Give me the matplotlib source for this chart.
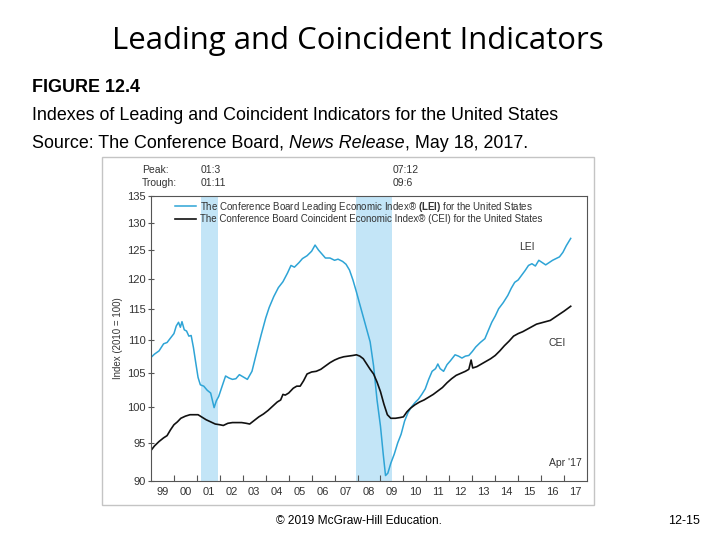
import numpy as np
import matplotlib
matplotlib.use("Agg")
import matplotlib.pyplot as plt
from matplotlib.patches import Rectangle
from matplotlib.ticker import FixedLocator, NullLocator, NullFormatter

# ---- data (decimal years) ----
lei_t = [1999.00, 1999.15, 1999.35, 1999.55, 1999.70, 1999.85, 2000.00, 2000.10, 2000.20, 2000.28,
         2000.35, 2000.45, 2000.55, 2000.65, 2000.75, 2000.85, 2000.95, 2001.05, 2001.15, 2001.30,
         2001.45, 2001.60, 2001.75, 2001.85, 2001.95, 2002.10, 2002.25, 2002.40, 2002.55, 2002.70,
         2002.85, 2003.00, 2003.20, 2003.40, 2003.60, 2003.80, 2004.00, 2004.15, 2004.35, 2004.55,
         2004.75, 2004.95, 2005.10, 2005.25, 2005.45, 2005.60, 2005.80, 2006.00, 2006.15, 2006.30,
         2006.45, 2006.60, 2006.80, 2007.00, 2007.15, 2007.35, 2007.50, 2007.65, 2007.80, 2007.95,
         2008.10, 2008.30, 2008.45, 2008.55, 2008.70, 2008.85, 2009.00, 2009.12, 2009.22, 2009.32,
         2009.45, 2009.60, 2009.75, 2009.90, 2010.05, 2010.20, 2010.35, 2010.50, 2010.65, 2010.80,
         2010.95, 2011.10, 2011.25, 2011.40, 2011.50, 2011.60, 2011.75, 2011.90, 2012.05, 2012.25,
         2012.40, 2012.55, 2012.70, 2012.85, 2013.00, 2013.15, 2013.35, 2013.55, 2013.70, 2013.85,
         2014.00, 2014.15, 2014.35, 2014.55, 2014.70, 2014.85, 2015.00, 2015.15, 2015.30, 2015.45,
         2015.60, 2015.75, 2015.90, 2016.05, 2016.20, 2016.35, 2016.50, 2016.65, 2016.80, 2016.95,
         2017.10, 2017.29]
lei_v = [107.3, 107.8, 108.3, 109.4, 109.6, 110.3, 111.0, 112.2, 112.8, 112.0,
         112.9, 111.6, 111.4, 110.6, 110.7, 108.8, 106.5, 104.3, 103.2, 103.0,
         102.4, 102.0, 99.9, 100.9, 101.5, 103.0, 104.5, 104.2, 104.0, 104.1,
         104.7, 104.4, 104.0, 105.2, 108.0, 110.8, 113.5, 115.2, 117.0, 118.5,
         119.5, 121.0, 122.3, 122.0, 122.8, 123.5, 124.0, 124.8, 125.9, 125.0,
         124.3, 123.6, 123.6, 123.2, 123.4, 123.0, 122.5, 121.5, 119.8, 117.8,
         115.7, 113.0, 111.0, 109.7, 106.0, 101.0, 97.3, 93.5, 90.7, 91.0,
         92.3, 93.5, 95.0, 96.2, 98.0, 99.2, 100.0, 100.6, 101.1, 101.8,
         102.6, 104.0, 105.2, 105.6, 106.3, 105.6, 105.2, 106.2, 106.8, 107.7,
         107.5, 107.2, 107.5, 107.6, 108.2, 108.9, 109.6, 110.2, 111.5, 112.8,
         113.8, 115.0, 116.0, 117.2, 118.4, 119.4, 119.8, 120.6, 121.4, 122.3,
         122.6, 122.2, 123.2, 122.8, 122.4, 122.8, 123.2, 123.5, 123.8, 124.6,
         125.8, 127.1]

cei_t = [1999.00, 1999.15, 1999.35, 1999.55, 1999.70, 1999.85, 2000.00, 2000.15, 2000.30, 2000.50,
         2000.70, 2000.90, 2001.05, 2001.20, 2001.40, 2001.60, 2001.80, 2002.00, 2002.15, 2002.35,
         2002.55, 2002.75, 2002.95, 2003.15, 2003.30, 2003.50, 2003.70, 2003.90, 2004.10, 2004.30,
         2004.50, 2004.65, 2004.75, 2004.85, 2005.00, 2005.20, 2005.35, 2005.50, 2005.65, 2005.80,
         2006.00, 2006.20, 2006.40, 2006.60, 2006.80, 2007.00, 2007.20, 2007.40, 2007.60, 2007.80,
         2007.95, 2008.10, 2008.25, 2008.40, 2008.55, 2008.70, 2008.85, 2009.00, 2009.15, 2009.30,
         2009.45, 2009.65, 2009.85, 2010.00, 2010.15, 2010.30, 2010.50, 2010.70, 2010.90, 2011.10,
         2011.30, 2011.50, 2011.70, 2011.90, 2012.10, 2012.30, 2012.50, 2012.70, 2012.85, 2012.95,
         2013.02, 2013.20, 2013.40, 2013.60, 2013.80, 2014.00, 2014.20, 2014.40, 2014.60, 2014.80,
         2015.00, 2015.20, 2015.40, 2015.60, 2015.80, 2016.00, 2016.20, 2016.40, 2016.60, 2016.80,
         2017.00, 2017.29]
cei_v = [94.0, 94.6, 95.2, 95.7, 96.0, 96.8, 97.5, 97.9, 98.4, 98.7,
         98.9, 98.9, 98.9, 98.6, 98.2, 97.9, 97.6, 97.5, 97.4, 97.7,
         97.8, 97.8, 97.8, 97.7, 97.6, 98.1, 98.6, 99.0, 99.5, 100.1,
         100.7, 101.0, 101.8, 101.7, 102.0, 102.7, 103.0, 103.0, 103.8, 104.8,
         105.1, 105.2, 105.5, 106.0, 106.5, 106.9, 107.2, 107.4, 107.5, 107.6,
         107.7, 107.5, 107.1, 106.3, 105.5, 104.8, 103.6, 102.2, 100.4, 98.9,
         98.4, 98.4, 98.5, 98.6, 99.3, 99.8, 100.3, 100.7, 101.0, 101.4,
         101.8, 102.3, 102.8, 103.5, 104.1, 104.6, 104.9, 105.2, 105.5, 106.9,
         105.7, 105.9, 106.3, 106.7, 107.1, 107.6, 108.3, 109.1, 109.8, 110.6,
         111.0, 111.3, 111.7, 112.1, 112.5, 112.7, 112.9, 113.1, 113.6, 114.1,
         114.6, 115.4]

recessions = [(2001 + 2 / 12, 2001 + 11 / 12), (2007 + 11 / 12, 2009 + 6 / 12)]
peaks = ["01:3", "07:12"]
troughs = ["01:11", "09:6"]
yticks = [90, 95, 100, 105, 110, 115, 120, 125, 130, 135]
years = list(range(1999, 2018))
year_labels = ["99", "00", "01", "02", "03", "04", "05", "06", "07", "08",
               "09", "10", "11", "12", "13", "14", "15", "16", "17"]

W, H = 720, 540
def fx(px):
    return px / W
def fy(py):
    return 1 - py / H

fig = plt.figure(figsize=(7.2, 5.4), dpi=100)
fig.patch.set_facecolor("white")

plt.rcParams["mathtext.fontset"] = "custom"
plt.rcParams["mathtext.rm"] = "Liberation Sans"
plt.rcParams["mathtext.bf"] = "Liberation Sans:bold"

# slide text
fig.text(fx(358), fy(41), "Leading and Coincident Indicators", ha="center", va="center",
         fontsize=22.4, family="Open Sans", color="black")
body = "Liberation Sans"
fig.text(fx(32), fy(88), "FIGURE 12.4", ha="left", va="center", fontsize=12.9,
         family=body, weight="bold")
fig.text(fx(32), fy(115), "Indexes of Leading and Coincident Indicators for the United States",
         ha="left", va="center", fontsize=12.9, family=body)

renderer = fig.canvas.get_renderer()
xpos = fx(32)
for piece, style in [("Source: The Conference Board, ", "normal"), ("News Release", "italic"),
                     (", May 18, 2017.", "normal")]:
    t = fig.text(xpos, fy(143), piece, ha="left", va="center", fontsize=12.9,
                 family=body, style=style)
    bb = t.get_window_extent(renderer=renderer)
    xpos = bb.x1 / W

fig.text(fx(359), fy(521), "\u00a9 2019 McGraw-Hill Education.", ha="center", va="center",
         fontsize=8.6, family="Liberation Sans")
fig.text(fx(684), fy(521), "12-15", ha="center", va="center", fontsize=9, family="Liberation Sans")

# picture frame
fig.patches.append(Rectangle((fx(102), fy(505)), (594 - 102) / W, (505 - 157) / H,
                             transform=fig.transFigure, fill=False, edgecolor="#c4c4c4", lw=1))

# chart
ax = fig.add_axes([fx(151), fy(481), (587 - 151) / W, (481 - 196) / H])
ax.set_yscale("log")
ax.set_xlim(1999, 2018)
ax.set_ylim(90, 135)

for start, end in recessions:
    ax.axvspan(start, end, color="#c3e5f7", lw=0, zorder=0)

ax.plot(lei_t, lei_v, color="#2ea4d6", lw=1.1,
        label="The Conference Board Leading Economic Index\u00ae $\\mathbf{(LEI)}$ for the United States")
ax.plot(cei_t, cei_v, color="#111111", lw=1.2,
        label="The Conference Board Coincident Economic Index\u00ae (CEI) for the United States")

ax.yaxis.set_major_locator(FixedLocator(yticks))
ax.yaxis.set_minor_locator(NullLocator())
ax.yaxis.set_minor_formatter(NullFormatter())
ax.set_yticklabels([str(v) for v in yticks])

ax.xaxis.set_major_locator(FixedLocator(years[1:]))
ax.xaxis.set_major_formatter(NullFormatter())
ax.xaxis.set_minor_locator(FixedLocator([y + 0.5 for y in years]))
ax.set_xticklabels(year_labels, minor=True)
ax.tick_params(axis="x", which="major", direction="in", length=4, width=0.8, color="#555555")
ax.tick_params(axis="x", which="minor", length=0, pad=4, labelsize=8, labelcolor="#333333")
ax.tick_params(axis="y", which="major", direction="inout", length=4, width=0.8, color="#555555",
               labelsize=8, labelcolor="#333333", pad=2)
for lab in ax.get_xticklabels(minor=True) + ax.get_yticklabels():
    lab.set_family("Liberation Sans")

for s in ax.spines.values():
    s.set_color("#555555")
    s.set_linewidth(0.8)

ax.set_ylabel("Index (2010 = 100)", fontsize=7, color="#333333", family="Liberation Sans", labelpad=3)

leg = ax.legend(loc="upper left", bbox_to_anchor=(0.045, 1.0), frameon=False,
                handlelength=2.2, handletextpad=0.4, labelspacing=0.05, borderaxespad=0,
                prop={"family": "Liberation Sans", "size": 7})
for t in leg.get_texts():
    t.set_color("#333333")

ax.text(2015.4, 125.6, "LEI", fontsize=7.5, color="#333333", ha="center", va="center", family="Liberation Sans")
ax.text(2016.7, 109.6, "CEI", fontsize=7.5, color="#333333", ha="center", va="center", family="Liberation Sans")
ax.text(2017.75, 92.3, "Apr '17", fontsize=7.5, color="#333333", ha="right", va="center", family="Liberation Sans")

# peak / trough header above the chart
hdr = dict(fontsize=7.5, color="#333333", ha="left", va="center", family="Liberation Sans")
fig.text(fx(142), fy(170), "Peak:", **hdr)
fig.text(fx(142), fy(183), "Trough:", **hdr)
for hx, p, tr in zip([201, 393], peaks, troughs):
    fig.text(fx(hx), fy(170), p, **hdr)
    fig.text(fx(hx), fy(183), tr, **hdr)

fig.savefig("out.png", dpi=100)
